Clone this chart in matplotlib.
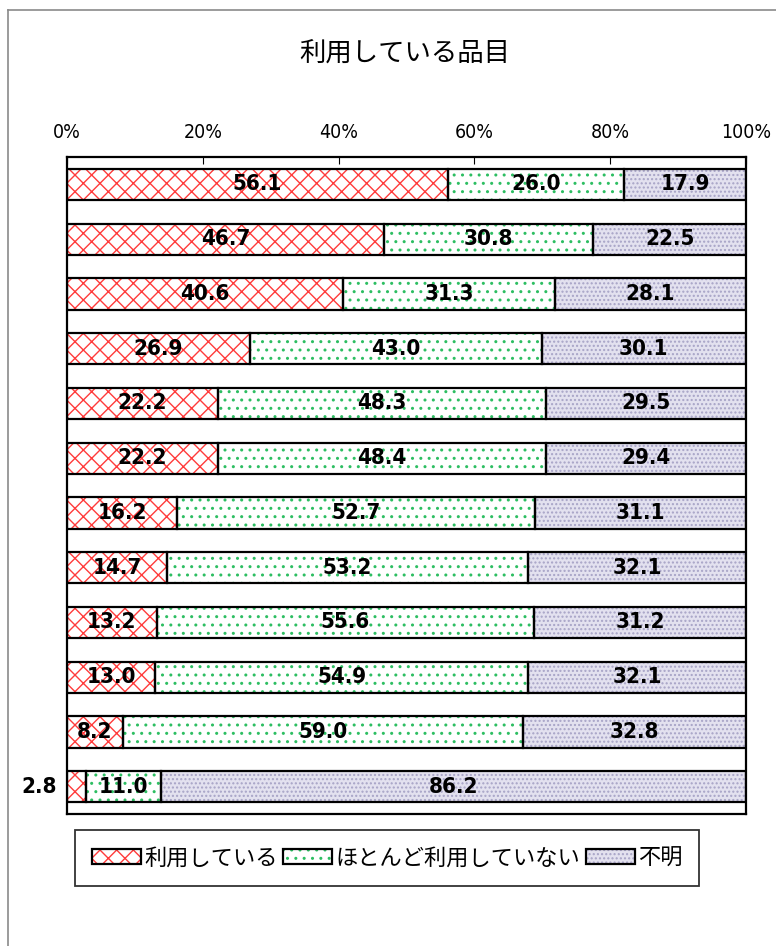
import numpy as np
import matplotlib
matplotlib.use('Agg')
import matplotlib.pyplot as plt
from matplotlib.patches import Patch
from matplotlib.lines import Line2D

plt.rcParams['font.family'] = ['Noto Sans CJK JP', 'DejaVu Sans']
plt.rcParams['hatch.linewidth'] = 1.0

NUM_FONT = dict(family='DejaVu Sans', fontstretch='condensed')

TITLE = '利用している品目'
SERIES = ['利用している', 'ほとんど利用していない', '不明']
USE = [56.1, 46.7, 40.6, 26.9, 22.2, 22.2, 16.2, 14.7, 13.2, 13.0, 8.2, 2.8]
HARDLY = [26.0, 30.8, 31.3, 43.0, 48.3, 48.4, 52.7, 53.2, 55.6, 54.9, 59.0, 11.0]
UNKNOWN = [17.9, 22.5, 28.1, 30.1, 29.5, 29.4, 31.1, 32.1, 31.2, 32.1, 32.8, 86.2]
XTICKS = [0, 20, 40, 60, 80, 100]

# face colour, hatch colour, hatch pattern
STYLES = [('white', '#FF3B3B', 'xx'),
          ('white', '#2DBE62', '..'),
          ('#E3E1EF', '#A7A3C6', '....')]

fig = plt.figure(figsize=(7.76, 9.46), dpi=100)
ax = fig.add_axes([0.0863, 0.1395, 0.875, 0.6945])

y = np.arange(len(USE))
h = 0.57
left = np.zeros(len(USE))
handles = []
for vals, (face, hcol, hatch) in zip([USE, HARDLY, UNKNOWN], STYLES):
    vals = np.array(vals)
    ax.barh(y, vals, left=left, height=h, color=face, edgecolor=hcol,
            hatch=hatch, linewidth=0, zorder=2)
    ax.barh(y, vals, left=left, height=h, fill=False, edgecolor='black',
            linewidth=1.6, zorder=3)
    for yi, l, v in zip(y, left, vals):
        if v < 5:
            ax.text(-1.5, yi, f'{v:.1f}', ha='right', va='center', fontsize=16,
                    fontweight='bold', clip_on=False, **NUM_FONT)
        else:
            ax.text(l + v / 2, yi, f'{v:.1f}', ha='center', va='center',
                    fontsize=16, fontweight='bold', zorder=4, **NUM_FONT)
    p1 = Patch(facecolor=face, edgecolor=hcol, hatch=hatch, linewidth=0)
    p2 = Patch(fill=False, edgecolor='black', linewidth=1.6)
    handles.append((p1, p2))
    left = left + vals

ax.set_xlim(0, 100)
ax.set_ylim(len(USE) - 0.5, -0.5)
ax.set_yticks([])
ax.xaxis.tick_top()
ax.set_xticks(XTICKS)
ax.set_xticklabels([f'{t}%' for t in XTICKS], fontsize=14, **NUM_FONT)
ax.tick_params(axis='x', direction='in', length=5, width=0.8, pad=11)
for s in ax.spines.values():
    s.set_linewidth(1.6)

fig.text(0.522, 0.944, TITLE, ha='center', va='center', fontsize=19)

leg = fig.legend(handles, SERIES, loc='center', bbox_to_anchor=(0.499, 0.093),
                 ncol=3, fontsize=16, frameon=True, fancybox=False,
                 handlelength=2.2, handleheight=0.65, handletextpad=0.15,
                 columnspacing=0.25, borderpad=0.75)
leg.get_frame().set_edgecolor('black')
leg.get_frame().set_linewidth(1.3)

# outer chart-area border (only left and top visible)
fig.add_artist(Line2D([0.0103, 0.0103], [0, 0.9894], color='#8A8A8A', lw=1.2,
                      transform=fig.transFigure))
fig.add_artist(Line2D([0.0103, 1.0], [0.9894, 0.9894], color='#8A8A8A', lw=1.2,
                      transform=fig.transFigure))

fig.savefig('out.png', dpi=100)
